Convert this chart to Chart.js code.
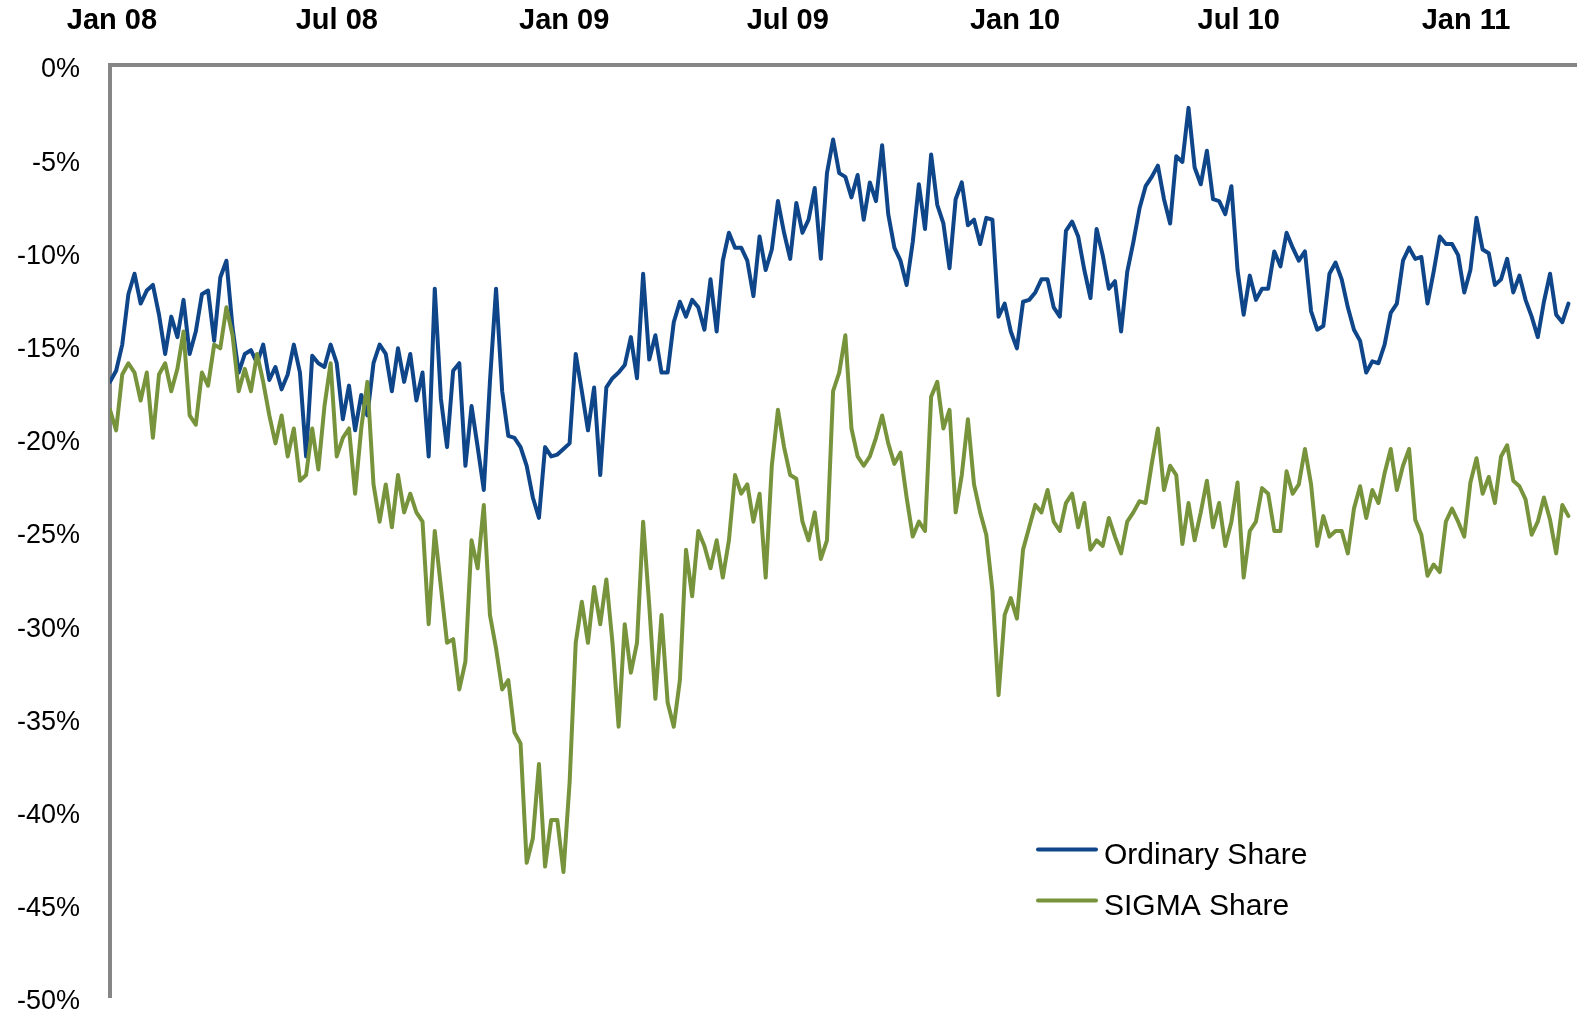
<!DOCTYPE html>
<html>
<head>
<meta charset="utf-8">
<title>Ordinary Share vs SIGMA Share</title>
<script src="https://cdn.jsdelivr.net/npm/chart.js@4.4.1/dist/chart.umd.min.js"></script>
<style>
  html, body { margin: 0; padding: 0; background: #fff; }
  #wrap { width: 1582px; height: 1014px; }
</style>
</head>
<body>
<div id="wrap"><canvas id="shareChart" width="1582" height="1014"></canvas></div>
<script>
// top axis labels and their position in days since 1 Jan 2008
const tickLabels = ['Jan 08', 'Jul 08', 'Jan 09', 'Jul 09', 'Jan 10', 'Jul 10', 'Jan 11'];
const tickDays = [0, 182, 366, 547, 731, 912, 1096];

// one reading roughly every 5 calendar days, first one on 31 Dec 2007
const firstDay = -1.6;
const stepDays = 4.96;

// performance relative to the reference price, in %
const ordinaryShare = [
    -17.0, -16.4, -15.0, -12.3, -11.2, -12.8, -12.1, -11.8, -13.4, -15.5,
    -13.5, -14.6, -12.6, -15.5, -14.3, -12.3, -12.1, -14.8, -11.4, -10.5,
    -14.1, -16.5, -15.5, -15.3, -16.0, -15.0, -16.9, -16.2, -17.4, -16.6,
    -15.0, -16.5, -21.0, -15.6, -16.0, -16.2, -15.0, -16.0, -19.0, -17.2,
    -19.6, -17.7, -18.8, -16.0, -15.0, -15.5, -17.5, -15.2, -17.0, -15.5,
    -18.0, -16.5, -21.0, -12.0, -17.9, -20.5, -16.4, -16.0, -21.5, -18.3,
    -20.5, -22.8, -17.0, -12.0, -17.5, -19.9, -20.0, -20.5, -21.5, -23.2,
    -24.3, -20.5, -21.0, -20.9, -20.6, -20.3, -15.5, -17.5, -19.6, -17.3,
    -22.0, -17.3, -16.8, -16.5, -16.1, -14.6, -16.8, -11.2, -15.8, -14.5,
    -16.5, -16.5, -13.8, -12.7, -13.5, -12.6, -13.0, -14.2, -11.5, -14.3,
    -10.5, -9.0, -9.8, -9.8, -10.5, -12.4, -9.2, -11.0, -9.9, -7.3,
    -9.0, -10.4, -7.4, -9.0, -8.3, -6.6, -10.4, -5.8, -4.0, -5.8,
    -6.0, -7.1, -5.9, -8.3, -6.3, -7.3, -4.3, -8.0, -9.8, -10.5,
    -11.8, -9.5, -6.4, -8.8, -4.8, -7.5, -8.5, -10.9, -7.2, -6.3,
    -8.6, -8.3, -9.6, -8.2, -8.3, -13.5, -12.8, -14.3, -15.2, -12.7,
    -12.6, -12.2, -11.5, -11.5, -13.0, -13.5, -8.9, -8.4, -9.2, -11.0,
    -12.5, -8.8, -10.2, -12.0, -11.6, -14.3, -11.1, -9.5, -7.7, -6.5,
    -6.0, -5.4, -7.2, -8.5, -4.9, -5.2, -2.3, -5.5, -6.4, -4.6,
    -7.2, -7.3, -8.0, -6.5, -11.0, -13.4, -11.3, -12.6, -12.0, -12.0,
    -10.0, -10.8, -9.0, -9.8, -10.5, -10.0, -13.2, -14.2, -14.0, -11.2,
    -10.6, -11.5, -13.0, -14.2, -14.8, -16.5, -15.9, -16.0, -15.0, -13.3,
    -12.8, -10.5, -9.8, -10.4, -10.3, -12.8, -11.1, -9.2, -9.6, -9.6,
    -10.2, -12.2, -11.0, -8.2, -9.9, -10.1, -11.8, -11.5, -10.4, -12.2,
    -11.3, -12.6, -13.5, -14.6, -12.7, -11.2, -13.4, -13.8, -12.8
];

const sigmaShare = [
    -18.5, -19.6, -16.6, -16.0, -16.5, -18.0, -16.5, -20.0, -16.6, -16.0,
    -17.5, -16.3, -14.3, -18.8, -19.3, -16.5, -17.2, -15.0, -15.2, -13.0,
    -14.5, -17.5, -16.3, -17.5, -15.5, -17.0, -18.8, -20.3, -18.8, -21.0,
    -19.5, -22.3, -22.0, -19.5, -21.7, -18.3, -16.0, -21.0, -20.0, -19.5,
    -23.0, -19.5, -17.0, -22.5, -24.5, -22.5, -24.8, -22.0, -24.0, -23.0,
    -24.0, -24.5, -30.0, -25.0, -28.0, -31.0, -30.8, -33.5, -32.0, -25.5,
    -27.0, -23.6, -29.5, -31.3, -33.5, -33.0, -35.8, -36.4, -42.8, -41.5,
    -37.5, -43.0, -40.5, -40.5, -43.3, -38.5, -31.0, -28.8, -31.0, -28.0,
    -30.0, -27.6, -31.0, -35.5, -30.0, -32.6, -31.0, -24.5, -29.0, -34.0,
    -29.5, -34.2, -35.5, -33.0, -26.0, -28.5, -25.0, -25.8, -27.0, -25.5,
    -27.5, -25.5, -22.0, -23.0, -22.5, -24.5, -23.0, -27.5, -21.5, -18.5,
    -20.5, -22.0, -22.2, -24.5, -25.5, -24.0, -26.5, -25.5, -17.5, -16.5,
    -14.5, -19.5, -21.0, -21.5, -21.0, -20.0, -18.8, -20.3, -21.4, -20.8,
    -23.2, -25.3, -24.5, -25.0, -17.8, -17.0, -19.5, -18.5, -24.0, -22.0,
    -19.0, -22.5, -24.0, -25.2, -28.2, -33.8, -29.5, -28.6, -29.7, -26.0,
    -24.8, -23.6, -24.0, -22.8, -24.5, -25.0, -23.5, -23.0, -24.8, -23.5,
    -26.0, -25.5, -25.8, -24.3, -25.3, -26.2, -24.5, -24.0, -23.4, -23.5,
    -21.4, -19.5, -22.8, -21.5, -22.0, -25.7, -23.5, -25.5, -24.0, -22.3,
    -24.8, -23.5, -25.8, -24.5, -22.4, -27.5, -25.0, -24.5, -22.7, -23.0,
    -25.0, -25.0, -21.8, -23.0, -22.5, -20.6, -22.5, -25.8, -24.2, -25.3,
    -25.0, -25.0, -26.2, -23.8, -22.6, -24.3, -22.8, -23.5, -21.9, -20.6,
    -22.8, -21.5, -20.6, -24.4, -25.2, -27.4, -26.8, -27.2, -24.5, -23.8,
    -24.5, -25.3, -22.4, -21.1, -23.0, -22.1, -23.5, -21.0, -20.4, -22.3,
    -22.6, -23.3, -25.2, -24.5, -23.2, -24.4, -26.2, -23.6, -24.2
];

const blue = '#0F4589';
const olive = '#77933C';
const axisGrey = '#868686';

const toPoints = (values) => values.map((v, i) => ({ x: firstDay + i * stepDays, y: v }));

Chart.defaults.font.family = '"Liberation Sans", Arial, sans-serif';
Chart.defaults.color = '#000';

// legend drawn inside the plot, bottom right
const legendInside = {
    id: 'legendInside',
    afterDraw(chart, args, opts) {
        const ctx = chart.ctx;
        ctx.save();
        ctx.font = '30px "Liberation Sans", Arial, sans-serif';
        ctx.textBaseline = 'alphabetic';
        ctx.textAlign = 'left';
        chart.data.datasets.forEach((ds, i) => {
            const y = opts.y + i * opts.rowGap;
            ctx.strokeStyle = ds.borderColor;
            ctx.lineWidth = opts.lineWidth;
            ctx.lineCap = 'round';
            ctx.beginPath();
            ctx.moveTo(opts.x, y);
            ctx.lineTo(opts.x + opts.lineLength, y);
            ctx.stroke();
            ctx.fillStyle = '#000';
            ctx.fillText(ds.label, opts.textX, y + opts.baseline);
        });
        ctx.restore();
    }
};

const ctx = document.getElementById('shareChart').getContext('2d');
new Chart(ctx, {
    type: 'line',
    data: {
        datasets: [
            {
                label: 'Ordinary Share',
                data: toPoints(ordinaryShare),
                borderColor: blue,
                borderWidth: 4,
                borderJoinStyle: 'round',
                borderCapStyle: 'round',
                pointRadius: 0,
                tension: 0,
                order: 1
            },
            {
                label: 'SIGMA Share',
                data: toPoints(sigmaShare),
                borderColor: olive,
                borderWidth: 4,
                borderJoinStyle: 'round',
                borderCapStyle: 'round',
                pointRadius: 0,
                tension: 0,
                order: 0
            }
        ]
    },
    options: {
        responsive: false,
        animation: false,
        layout: { padding: { top: 0, left: 0, right: 6, bottom: 17 } },
        plugins: {
            legend: { display: false },
            tooltip: { enabled: false },
            legendInside: {
                x: 1038, y: 849.5, lineLength: 58, lineWidth: 4,
                textX: 1104, rowGap: 51, baseline: 14
            }
        },
        scales: {
            x: {
                type: 'linear',
                position: 'top',
                min: firstDay,
                max: 1185,
                grid: { display: false, drawTicks: false },
                border: { display: true, color: axisGrey, width: 4 },
                ticks: {
                    padding: 27,
                    autoSkip: false,
                    maxRotation: 0,
                    font: { size: 29, weight: 'bold' },
                    callback: (value) => tickLabels[tickDays.indexOf(value)] ?? ''
                },
                afterBuildTicks: (scale) => {
                    scale.ticks = tickDays.map(v => ({ value: v }));
                },
                afterFit: (scale) => {
                    scale.height = 65;
                    scale.paddingLeft = 0;
                    scale.paddingRight = 0;
                }
            },
            y: {
                min: -50,
                max: 0,
                grid: { display: false, drawTicks: false },
                border: { display: true, color: axisGrey, width: 4 },
                ticks: {
                    stepSize: 5,
                    padding: 30,
                    labelOffset: 5,
                    font: { size: 27 },
                    callback: (value) => value + '%'
                },
                afterFit: (scale) => {
                    scale.width = 110;
                    scale.paddingTop = 0;
                    scale.paddingBottom = 0;
                }
            }
        }
    },
    plugins: [legendInside]
});
</script>
</body>
</html>
